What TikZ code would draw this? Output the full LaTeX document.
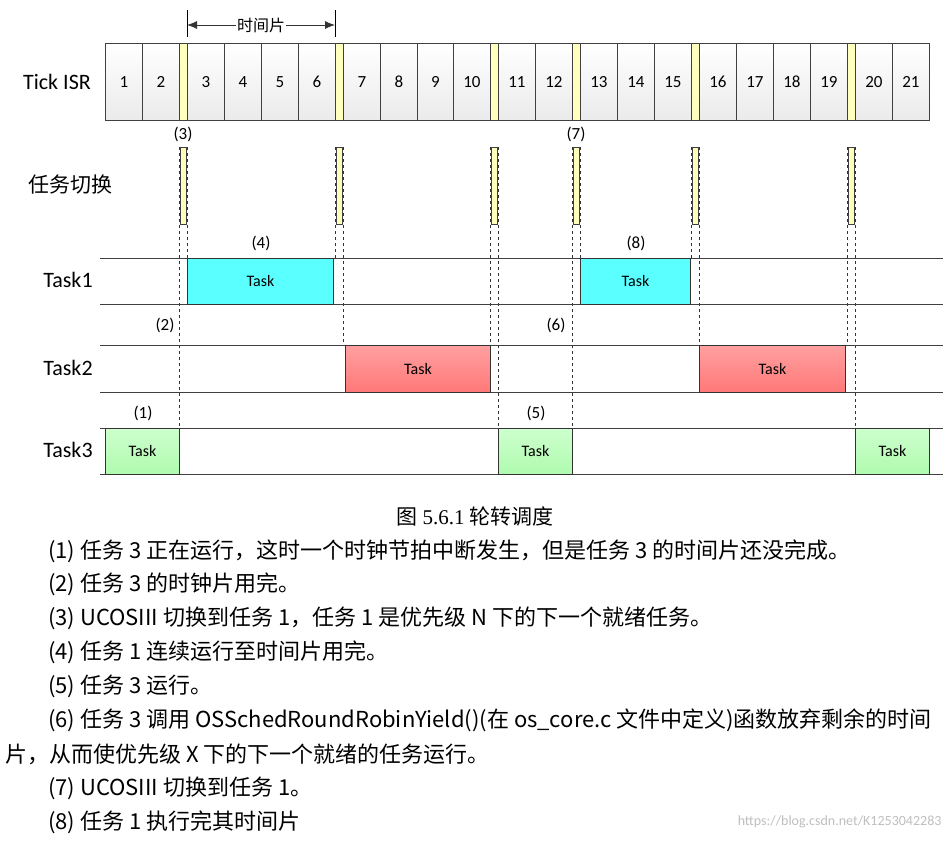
\documentclass[tikz,border=0pt]{standalone}
\usepackage{fontspec}
\setmainfont{Liberation Serif}
\newfontfamily\cjk{Noto Sans CJK SC}
\newfontfamily\calib{Carlito}
\usetikzlibrary{arrows.meta}
\definecolor{tcyan}{RGB}{90,255,255}
\definecolor{tredA}{RGB}{255,160,160}
\definecolor{tredB}{RGB}{255,120,120}
\definecolor{tgrnA}{RGB}{205,255,205}
\definecolor{tgrnB}{RGB}{175,250,175}
\definecolor{tyel}{RGB}{255,255,190}
\begin{document}
\begin{tikzpicture}[x=1pt,y=-1pt,
  cell/.style={draw=black!75,line width=0.8pt,top color=white,bottom color=black!8},
  ybar/.style={draw=black!75,line width=0.8pt,fill=tyel},
  dsh/.style={dashed,line width=0.5pt,black!80},
  hl/.style={line width=0.8pt,black!75},
  tbox/.style={draw=black!80,line width=0.9pt},
  lbl/.style={font=\calib\fontsize{22}{22}\selectfont},
  num/.style={font=\calib\fontsize{17}{17}\selectfont},
  note/.style={font=\calib\fontsize{16}{16}\selectfont},
  body/.style={anchor=west,font=\cjk\fontsize{22}{22}\selectfont,inner sep=0pt}]
\useasboundingbox[fill=white] (0,0) rectangle (951,841);
% tick row
\foreach \a/\b/\t in {105/142/1,142/179/2,187/224/3,224/261/4,261/298/5,298/335/6,343/380/7,380/417/8,417/453/9,453/490/10,498/535/11,535/572/12,580/617/13,617/654/14,654/691/15,699/736/16,736/773/17,773/810/18,810/847/19,855/892/20,892/929/21}
  \node[cell,minimum width=\b-\a,minimum height=77,inner sep=0pt,anchor=north west,label={[num]center:\t}] (c\t) at (\a,43) {};
% dashed lines
\foreach \x/\e in {179/428,187/258,335/258,343/345,490/345,498/428,572/428,580/258,691/258,699/345,847/345,855/428}
  \draw[dsh] (\x,147) -- (\x,\e);
\foreach \x in {179,335,490,572,691,847}{
  \node[ybar,minimum width=8,minimum height=77,inner sep=0pt,anchor=north west] (y\x) at (\x,43) {};
  \node[ybar,minimum width=6,minimum height=77,inner sep=0pt,anchor=north west] (s\x) at (\x+1,147) {};
}
\node[lbl] (lisr) at (57,82) {Tick ISR};
\node[font=\cjk\fontsize{21}{21}\selectfont] (lsw) at (70,185) {任务切换};
\node[lbl] (l1) at (68,280) {Task1};
\node[lbl] (l2) at (68,368) {Task2};
\node[lbl] (l3) at (68,450) {Task3};
% time slice arrow
\draw[line width=0.6pt] (187,10) -- (187,37) (335,10) -- (335,37);
\node[font=\cjk\fontsize{16}{16}\selectfont,fill=white,inner sep=1pt] (ts) at (261,25) {时间片};
\draw[-{Latex[length=10pt,width=8pt]},line width=0.8pt,black!80] (ts.west) -- (187,25);
\draw[-{Latex[length=10pt,width=8pt]},line width=0.8pt,black!80] (ts.east) -- (335,25);
% row lines
\foreach \y in {258,304,345,392,428,474} \draw[hl] (100,\y) -- (943,\y);
% task boxes
\node[tbox,fill=tcyan,minimum width=146,minimum height=46,anchor=north west,label={[note]center:Task}] (t1a) at (187,258) {};
\node[tbox,fill=tcyan,minimum width=110,minimum height=46,anchor=north west,label={[note]center:Task}] (t1b) at (580,258) {};
\node[tbox,top color=tredA,bottom color=tredB,minimum width=145,minimum height=47,anchor=north west,label={[note]center:Task}] (t2a) at (345,345) {};
\node[tbox,top color=tredA,bottom color=tredB,minimum width=146,minimum height=47,anchor=north west,label={[note]center:Task}] (t2b) at (699,345) {};
\foreach \x/\n in {105/a,498/b,855/c}
  \node[tbox,top color=tgrnA,bottom color=tgrnB,minimum width=74,minimum height=46,anchor=north west,label={[note]center:Task}] (t3\n) at (\x,428) {};
% numbers
\foreach \x/\y/\t in {183/134/3,576/134/7,261/243/4,636/243/8,165/325/2,556/325/6,143/413/1,536/413/5}
  \node[num] at (\x,\y) {(\t)};
% caption and notes
\node[font=\cjk\fontsize{21}{21}\selectfont] (cap) at (475,516) {图 {\rmfamily 5.6.1} 轮转调度};
\node[body] at (48,551) {(1) 任务 3 正在运行，这时一个时钟节拍中断发生，但是任务 3 的时间片还没完成。};
\node[body] at (48,584) {(2) 任务 3 的时钟片用完。};
\node[body] at (48,618) {(3) UCOSIII 切换到任务 1，任务 1 是优先级 N 下的下一个就绪任务。};
\node[body] at (48,652) {(4) 任务 1 连续运行至时间片用完。};
\node[body] at (48,686) {(5) 任务 3 运行。};
\node[body] at (48,720) {(6) 任务 3 调用 OSSchedRoundRobinYield()(在 os\_core.c 文件中定义)函数放弃剩余的时间};
\node[body] at (5,754) {片，从而使优先级 X 下的下一个就绪的任务运行。};
\node[body] at (48,788) {(7) UCOSIII 切换到任务 1。};
\node[body] at (48,822) {(8) 任务 1 执行完其时间片};
\node[anchor=east,font=\calib\fontsize{14}{14}\selectfont,black!25] (wm) at (945,822) {https://blog.csdn.net/K1253042283};
\end{tikzpicture}
\end{document}
